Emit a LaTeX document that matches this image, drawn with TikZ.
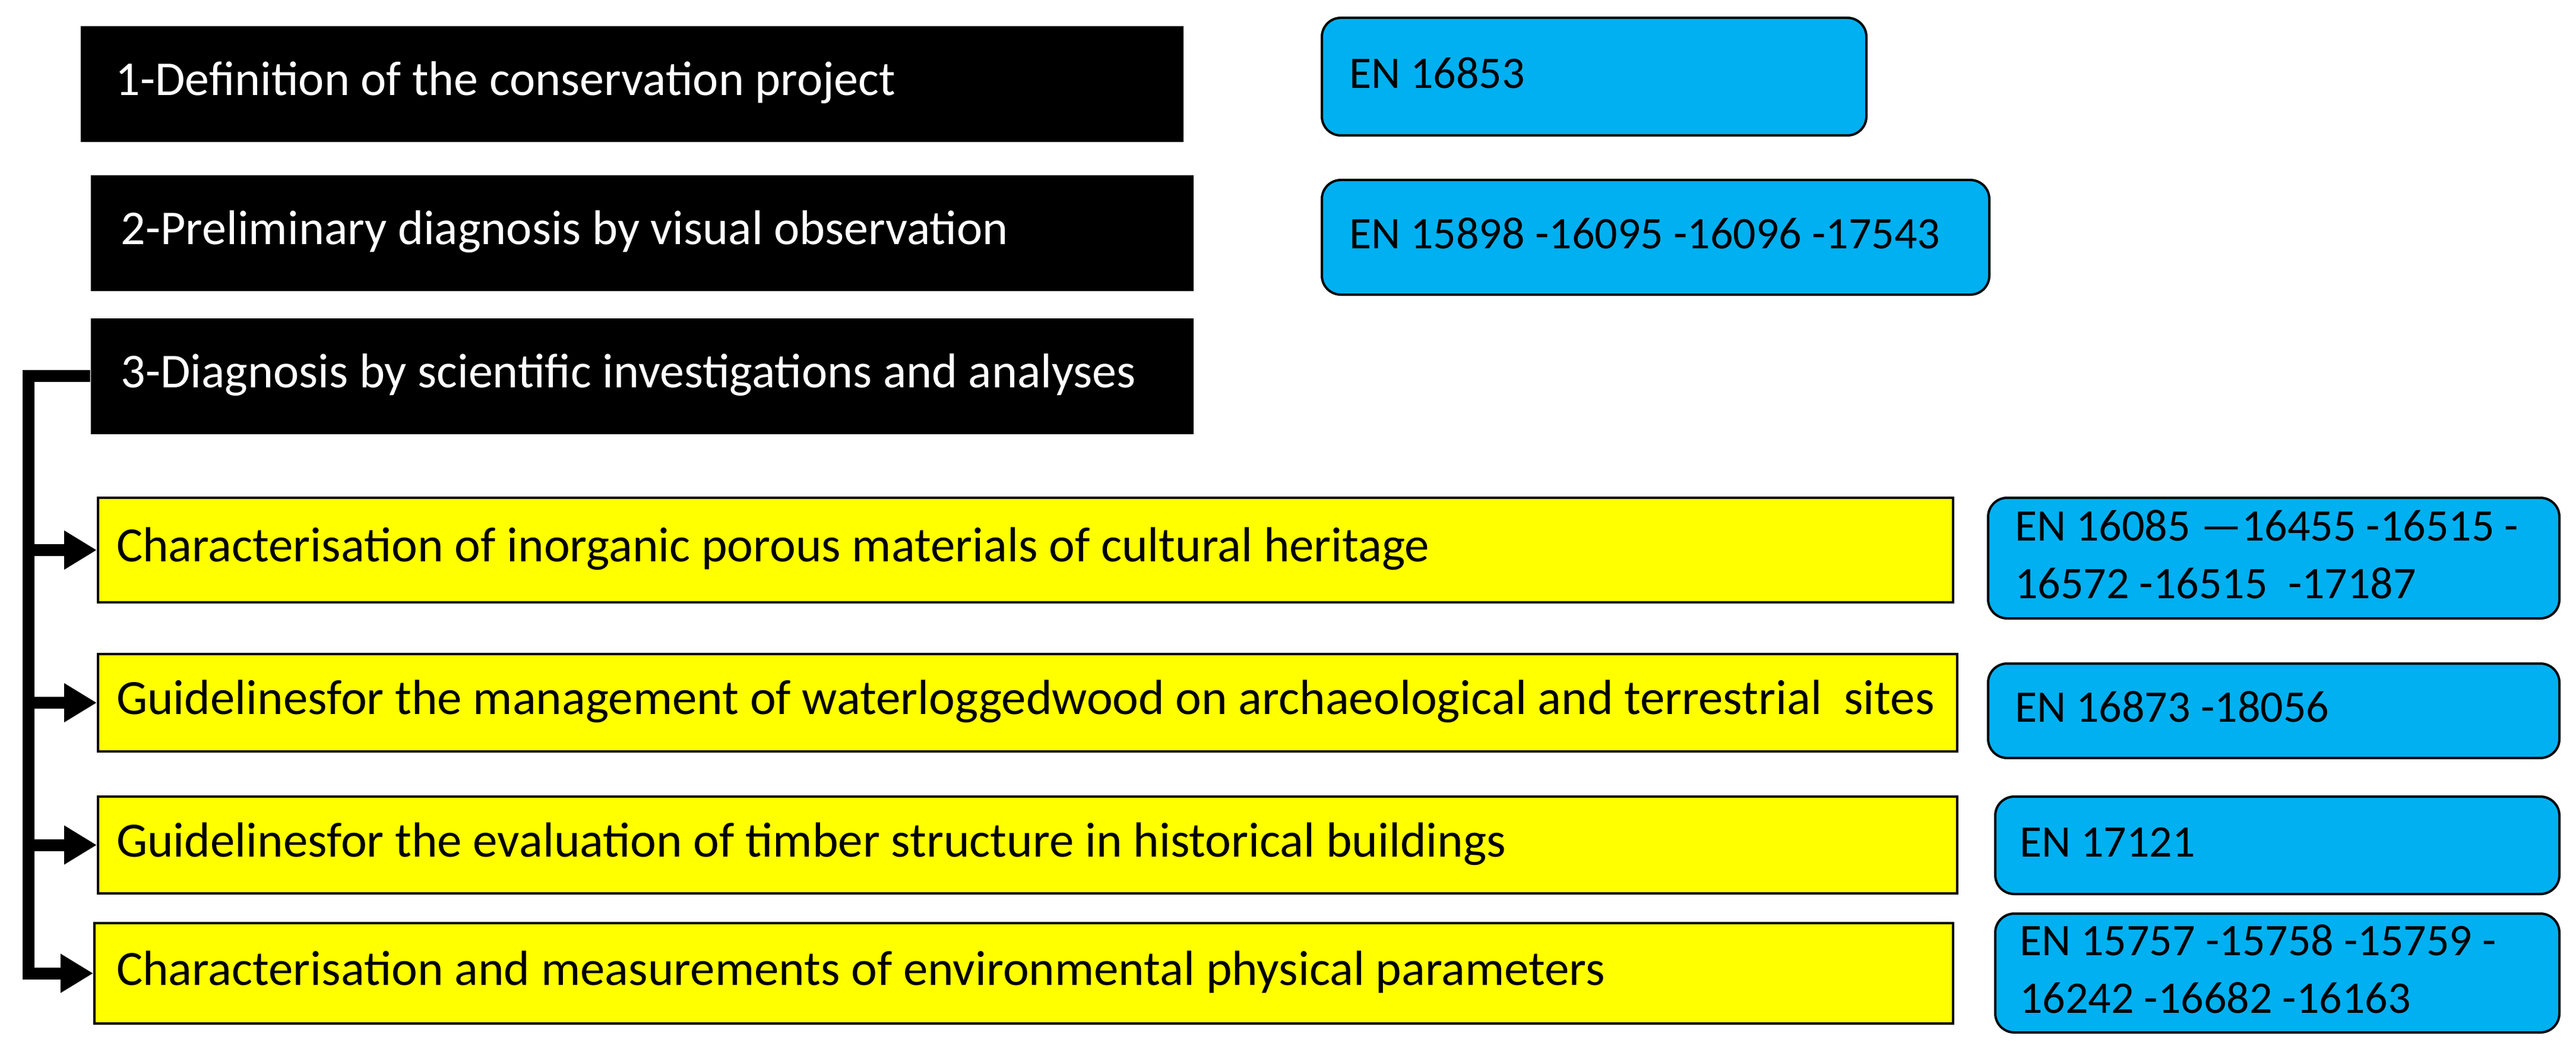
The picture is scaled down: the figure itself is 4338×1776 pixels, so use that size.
\documentclass[tikz,border=0pt]{standalone}
\usepackage{fontspec}
\setmainfont{Carlito}
\usetikzlibrary{arrows.meta}
\definecolor{cblue}{HTML}{00B0F0}
\definecolor{cyel}{HTML}{FFFF00}
\newcommand{\lbox}[2]{\makebox[#1][l]{\begin{tabular}{@{}l@{}}#2\end{tabular}}}
\begin{document}
\begin{tikzpicture}[x=0.25pt,y=-0.25pt,
  base/.style={anchor=north west, inner ysep=0pt, font=\fontsize{19pt}{24.25pt}\selectfont},
  stepbox/.style={base, fill=black, text=white, font=\fontsize{20.5pt}{24.5pt}\selectfont},
  topic/.style={base, fill=cyel, draw=black, line width=1pt, font=\fontsize{20.75pt}{24.5pt}\selectfont},
  norm/.style={base, fill=cblue, draw=black, line width=1pt, rounded corners=8pt},
  conn/.style={line width=5pt, line join=miter},
  arr/.style={conn, -{Triangle[length=13.75pt,width=15.5pt]}}]
\useasboundingbox (0,0) rectangle (4338,1776);
% black step boxes
\node[stepbox, inner xsep=14.75pt, minimum height=48.75pt] (s1) at (135,43)
  {\lbox{434.75pt}{1-Definition of the conservation project}};
\node[stepbox, inner xsep=12.75pt, minimum height=48.75pt] (s2) at (152,294)
  {\lbox{438.75pt}{2-Preliminary diagnosis by visual observation}};
\node[stepbox, inner xsep=12.75pt, minimum height=48.75pt] (s3) at (152,535)
  {\lbox{438.75pt}{3-Diagnosis by scientific investigations and analyses}};
% yellow topic boxes
\node[topic, inner xsep=7.75pt, minimum height=44pt] (yA) at (163,836)
  {\lbox{765.5pt}{Characterisation of inorganic porous materials of cultural heritage}};
\node[topic, inner xsep=7.75pt, minimum height=41pt] (yB) at (163,1099)
  {\lbox{767.25pt}{Guidelinesfor the management of waterloggedwood on archaeological and terrestrial\ \ sites}};
\node[topic, inner xsep=7.75pt, minimum height=40.75pt] (yC) at (163,1339)
  {\lbox{767.25pt}{Guidelinesfor the evaluation of timber structure in historical buildings}};
\node[topic, inner xsep=9.25pt, minimum height=42.25pt] (yD) at (157,1552)
  {\lbox{764pt}{Characterisation and measurements of environmental physical parameters}};
% blue standard boxes
\node[norm, inner xsep=11.5pt, minimum height=49.5pt] (b1) at (2224,28)
  {\lbox{206.25pt}{EN 16853}};
\node[norm, inner xsep=11.5pt, minimum height=48.25pt] (b2) at (2224,301)
  {\lbox{258pt}{EN 15898 -16095 -16096 -17543}};
\node[norm, inner xsep=11.25pt, minimum height=50.75pt] (bA) at (3346,836)
  {\lbox{218pt}{EN 16085 —16455 -16515 -\\16572 -16515\ \ -17187}};
\node[norm, inner xsep=11.25pt, minimum height=39.75pt] (bB) at (3346,1115)
  {\lbox{218pt}{EN 16873 -18056}};
\node[norm, inner xsep=10.25pt, minimum height=41pt] (bC) at (3358,1339)
  {\lbox{217pt}{EN 17121}};
\node[norm, inner xsep=10.25pt, minimum height=50pt] (bD) at (3358,1536)
  {\lbox{217pt}{EN 15757 -15758 -15759 -\\16242 -16682 -16163}};
% connectors
\coordinate (trunk) at (48,1000);
\draw[arr] (s3.west) -- (s3.west -| trunk) -- (yD.west -| trunk) -- (yD.west);
\draw[arr] (yA.west -| trunk) -- (yA.west);
\draw[arr] (yB.west -| trunk) -- (yB.west);
\draw[arr] (yC.west -| trunk) -- (yC.west);
\end{tikzpicture}
\end{document}
